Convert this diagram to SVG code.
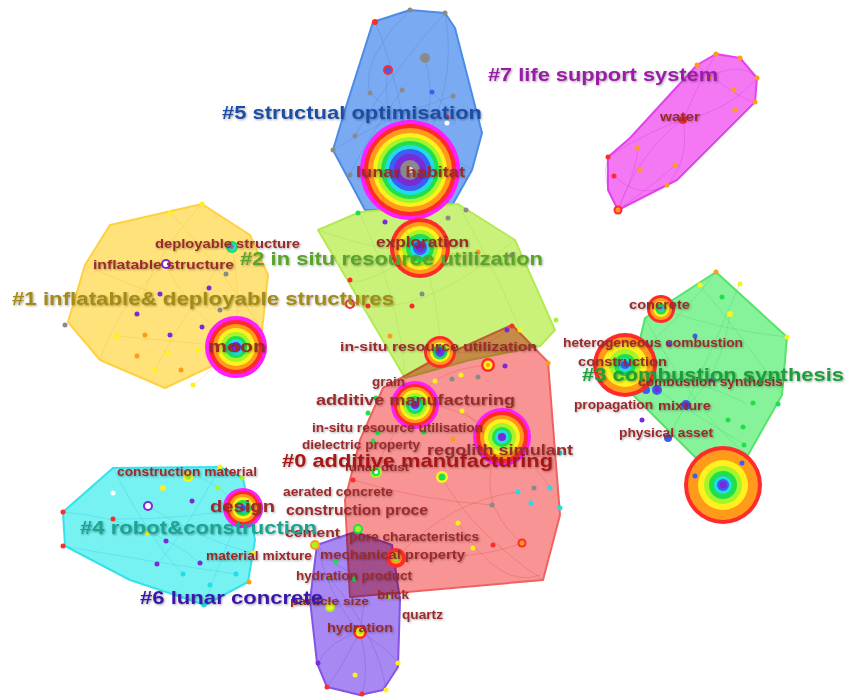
<svg xmlns="http://www.w3.org/2000/svg" width="845" height="697" viewBox="0 0 845 697">
  <style>
    .hull{stroke-width:2;stroke-linejoin:round}
    .mul{mix-blend-mode:multiply}
    .e{fill:none;stroke-width:0.8;opacity:0.38}
    .term{font-family:"Liberation Sans",Arial,sans-serif;font-weight:bold;fill:#9b2a2c;filter:url(#sh)}
    .clu{font-family:"Liberation Sans",Arial,sans-serif;font-weight:bold;filter:url(#sh)}
    .m{fill:#ff1eff}.r{fill:#ff2b2b}.o{fill:#ff9a1a}.y{fill:#fff01e}.lg{fill:#a6f52a}
    .g{fill:#1fe04a}.c{fill:#22dcea}.b{fill:#3c5ef2}.p{fill:#7a2ad6}.k{fill:#8a8a8a}.w{fill:#ffffff}
  </style>
  <defs>
    <filter id="sh" x="-5%" y="-30%" width="110%" height="160%">
      <feDropShadow dx="1" dy="1" stdDeviation="0.8" flood-color="#000" flood-opacity="0.35"/>
    </filter>
  </defs>
  <rect width="845" height="697" fill="#ffffff"/>

  <!-- cluster hulls -->
  <g id="hulls">
    <polygon id="hull5" class="hull" fill="#7aaaf2" stroke="#4c8ce6" points="373,22 410,10 445,13 455,28 482,133 472,170 450,209 365,210 333,150 345,110"/>
    <polygon id="hull7" class="hull" fill="#f478f4" stroke="#e244ea" points="608,157 630,138 697,65 716,54 740,58 757,78 755,102 677,180 618,210 608,190"/>
    <polygon id="hull1" class="hull" fill="#ffe27a" stroke="#ffd040" points="110,225 202,204 250,235 268,275 262,330 212,366 165,388 100,360 68,322 85,265"/>
    <polygon id="hull2" class="hull" fill="#caf27a" stroke="#b2ea52" points="318,230 360,212 458,204 515,240 555,330 540,346 470,360 405,378"/>
    <polygon id="hull0" class="hull mul" fill="#f89494" stroke="#f06262" points="512,325 548,362 560,515 543,580 350,597 345,500 360,440 383,388 430,362"/>
    <polygon id="hull3" class="hull" fill="#86f29a" stroke="#55e468" points="716,272 787,337 782,395 748,455 700,462 628,390 645,318"/>
    <polygon id="hull4" class="hull" fill="#76f2f2" stroke="#34e2ea" points="113,468 220,467 243,478 255,540 248,582 205,605 130,580 65,546 63,512"/>
    <polygon id="hull6" class="hull mul" fill="#a888f2" stroke="#8654e2" points="317,545 355,532 392,545 400,600 398,667 383,690 360,695 327,687 317,663 310,600"/>
  </g>

  <!-- connectors -->
  <g id="connectors">
    <g stroke="#4c7fd8">
      <path class="e" d="M410,170 Q380,110 388,70"/>
      <path class="e" d="M410,170 Q440,110 425,58"/>
      <path class="e" d="M375,22 Q400,80 410,170"/>
      <path class="e" d="M445,13 Q460,90 410,170"/>
      <path class="e" d="M333,150 Q380,120 453,96"/>
      <path class="e" d="M355,135 Q400,60 445,13"/>
      <path class="e" d="M370,93 Q420,140 472,170"/>
      <path class="e" d="M402,90 Q360,150 350,175"/>
      <path class="e" d="M410,10 Q360,60 370,93"/>
      <path class="e" d="M432,92 Q470,130 447,123"/>
    </g>
    <g stroke="#d030d8">
      <path class="e" d="M683,120 Q640,150 618,210"/>
      <path class="e" d="M683,120 Q700,80 716,54"/>
      <path class="e" d="M683,120 Q730,110 757,78"/>
      <path class="e" d="M683,120 Q650,130 608,157"/>
      <path class="e" d="M683,120 Q690,160 667,185"/>
      <path class="e" d="M618,210 Q640,160 637,148"/>
      <path class="e" d="M618,210 Q660,180 675,165"/>
      <path class="e" d="M618,210 Q600,180 608,157"/>
      <path class="e" d="M697,65 Q740,100 755,102"/>
      <path class="e" d="M708,78 Q740,60 757,78"/>
      <path class="e" d="M614,176 Q640,200 667,185"/>
    </g>
    <g stroke="#e8c030">
      <path class="e" d="M236,347 Q180,300 166,264"/>
      <path class="e" d="M236,347 Q240,280 232,247"/>
      <path class="e" d="M236,347 Q160,340 117,336"/>
      <path class="e" d="M236,347 Q200,380 193,385"/>
      <path class="e" d="M202,204 Q150,260 137,314"/>
      <path class="e" d="M166,264 Q120,300 100,360"/>
      <path class="e" d="M232,247 Q180,320 155,370"/>
      <path class="e" d="M85,265 Q160,300 220,310"/>
      <path class="e" d="M170,212 Q230,280 262,330"/>
    </g>
    <g stroke="#9cd840">
      <path class="e" d="M420,248 Q380,280 352,282"/>
      <path class="e" d="M420,248 Q470,260 512,255"/>
      <path class="e" d="M420,248 Q440,300 440,352"/>
      <path class="e" d="M360,213 Q400,300 405,378"/>
      <path class="e" d="M458,204 Q500,280 520,330"/>
      <path class="e" d="M318,230 Q400,260 478,252"/>
      <path class="e" d="M350,305 Q420,320 515,240"/>
    </g>
    <g stroke="#e04848">
      <path class="e" d="M502,437 Q470,500 522,543"/>
      <path class="e" d="M502,437 Q540,470 550,488"/>
      <path class="e" d="M502,437 Q450,400 415,405"/>
      <path class="e" d="M415,405 Q430,370 488,365"/>
      <path class="e" d="M415,405 Q380,450 376,472"/>
      <path class="e" d="M440,352 Q470,360 512,326"/>
      <path class="e" d="M442,477 Q470,530 543,580"/>
      <path class="e" d="M396,558 Q450,500 518,492"/>
      <path class="e" d="M396,558 Q480,560 522,543"/>
      <path class="e" d="M353,480 Q420,500 492,505"/>
      <path class="e" d="M463,410 Q520,470 560,453"/>
      <path class="e" d="M458,523 Q500,590 540,575"/>
    </g>
    <g stroke="#40d858">
      <path class="e" d="M625,365 Q680,320 716,272"/>
      <path class="e" d="M625,365 Q700,380 745,403"/>
      <path class="e" d="M661,309 Q720,330 787,337"/>
      <path class="e" d="M657,390 Q720,430 744,444"/>
      <path class="e" d="M700,285 Q760,360 782,395"/>
      <path class="e" d="M686,405 Q720,380 730,313"/>
      <path class="e" d="M645,318 Q700,420 748,455"/>
      <path class="e" d="M740,283 Q700,380 668,438"/>
    </g>
    <g stroke="#30c8d8">
      <path class="e" d="M243,508 Q180,520 113,519"/>
      <path class="e" d="M243,508 Q200,470 188,477"/>
      <path class="e" d="M243,508 Q220,560 204,605"/>
      <path class="e" d="M63,512 Q150,520 200,563"/>
      <path class="e" d="M63,546 Q140,560 236,574"/>
      <path class="e" d="M113,468 Q150,540 183,574"/>
      <path class="e" d="M220,467 Q180,540 157,564"/>
      <path class="e" d="M148,506 Q200,540 253,553"/>
    </g>
    <g stroke="#7a48d8">
      <path class="e" d="M360,632 Q330,600 317,545"/>
      <path class="e" d="M360,632 Q370,580 358,530"/>
      <path class="e" d="M360,632 Q340,670 327,687"/>
      <path class="e" d="M360,632 Q370,670 362,695"/>
      <path class="e" d="M360,632 Q390,650 398,663"/>
      <path class="e" d="M360,632 Q330,640 318,663"/>
      <path class="e" d="M340,606 Q380,590 396,558"/>
      <path class="e" d="M330,578 Q380,640 386,691"/>
      <path class="e" d="M317,545 Q360,600 392,545"/>
    </g>
  </g>

  <!-- small nodes -->
  <g id="dots">
    <!-- cluster 5 -->
    <circle cx="375" cy="22" r="3" class="r"/><circle cx="410" cy="10" r="2.5" class="k"/><circle cx="445" cy="13" r="2.5" class="k"/>
    <circle cx="425" cy="58" r="5" class="k"/><circle cx="370" cy="93" r="2.5" class="k"/><circle cx="402" cy="90" r="2.5" class="k"/>
    <circle cx="432" cy="92" r="2.5" class="b"/><circle cx="453" cy="96" r="2.5" class="k"/><circle cx="447" cy="117" r="2.5" class="r"/>
    <circle cx="447" cy="123" r="2.5" class="w"/><circle cx="355" cy="136" r="2.5" class="k"/><circle cx="333" cy="150" r="2.5" class="k"/>
    <circle cx="350" cy="175" r="2.5" class="k"/><circle cx="358" cy="213" r="2.5" class="g"/>
    <!-- cluster 7 -->
    <circle cx="697" cy="65" r="2.5" class="o"/><circle cx="716" cy="54" r="2.5" class="o"/><circle cx="740" cy="58" r="2.5" class="o"/>
    <circle cx="757" cy="78" r="2.5" class="o"/><circle cx="755" cy="102" r="2.5" class="o"/><circle cx="709" cy="78" r="2.5" class="o"/>
    <circle cx="734" cy="90" r="2.5" class="o"/><circle cx="735" cy="110" r="2.5" class="o"/><circle cx="637" cy="148" r="2.5" class="o"/>
    <circle cx="608" cy="157" r="2.5" class="r"/><circle cx="614" cy="176" r="2.5" class="r"/><circle cx="640" cy="170" r="2.5" class="o"/>
    <circle cx="675" cy="165" r="2.5" class="o"/><circle cx="667" cy="185" r="2.5" class="o"/>
    <circle cx="618" cy="210" r="4.5" class="r"/><circle cx="618" cy="210" r="2.5" class="o"/>
    <circle cx="683" cy="120" r="4" class="r"/>
    <!-- cluster 1 -->
    <circle cx="202" cy="204" r="2.5" class="y"/><circle cx="170" cy="213" r="2.5" class="y"/><circle cx="226" cy="274" r="2.5" class="k"/>
    <circle cx="209" cy="288" r="2.5" class="p"/><circle cx="160" cy="294" r="2.5" class="p"/><circle cx="220" cy="310" r="2.5" class="k"/>
    <circle cx="137" cy="314" r="2.5" class="p"/><circle cx="65" cy="325" r="2.5" class="k"/><circle cx="117" cy="336" r="3" class="y"/>
    <circle cx="145" cy="335" r="2.5" class="o"/><circle cx="170" cy="335" r="2.5" class="p"/><circle cx="202" cy="327" r="2.5" class="p"/>
    <circle cx="137" cy="356" r="2.5" class="o"/><circle cx="168" cy="353" r="2.5" class="y"/><circle cx="198" cy="350" r="2.5" class="y"/>
    <circle cx="155" cy="370" r="2.5" class="y"/><circle cx="181" cy="370" r="2.5" class="o"/><circle cx="193" cy="385" r="2.5" class="y"/>
    <circle cx="232" cy="247" r="6" class="g"/><circle cx="232" cy="247" r="4" class="c"/><circle cx="232" cy="247" r="2" class="k"/>
    <circle cx="166" cy="264" r="5" class="p"/><circle cx="166" cy="264" r="3" class="w"/>
    <!-- cluster 2 -->
    <circle cx="385" cy="222" r="2.5" class="p"/><circle cx="448" cy="218" r="2.5" class="k"/><circle cx="466" cy="210" r="2.5" class="k"/>
    <circle cx="350" cy="280" r="2.5" class="r"/><circle cx="368" cy="306" r="2.5" class="r"/><circle cx="412" cy="306" r="2.5" class="r"/>
    <circle cx="422" cy="294" r="2.5" class="k"/><circle cx="478" cy="252" r="2.5" class="o"/><circle cx="512" cy="255" r="2.5" class="k"/>
    <circle cx="390" cy="336" r="2.5" class="o"/><circle cx="520" cy="330" r="2.5" class="y"/><circle cx="556" cy="320" r="2.5" class="lg"/>
    <circle cx="350" cy="304" r="5" class="r"/><circle cx="350" cy="304" r="3" class="w"/>
    <!-- cluster 0 -->
    <circle cx="512" cy="326" r="2.5" class="r"/><circle cx="507" cy="330" r="2.5" class="p"/><circle cx="505" cy="366" r="2.5" class="p"/>
    <circle cx="435" cy="381" r="2.5" class="y"/><circle cx="452" cy="379" r="2.5" class="k"/><circle cx="461" cy="375" r="2.5" class="y"/>
    <circle cx="478" cy="377" r="2.5" class="k"/><circle cx="462" cy="411" r="2.5" class="y"/><circle cx="376" cy="398" r="2.5" class="g"/>
    <circle cx="368" cy="413" r="2.5" class="g"/><circle cx="378" cy="433" r="2.5" class="g"/><circle cx="424" cy="432" r="2.5" class="g"/>
    <circle cx="373" cy="441" r="2.5" class="g"/><circle cx="453" cy="439" r="2.5" class="o"/><circle cx="353" cy="480" r="2.5" class="r"/>
    <circle cx="560" cy="453" r="2.5" class="c"/><circle cx="550" cy="488" r="2.5" class="c"/><circle cx="518" cy="492" r="2.5" class="c"/>
    <circle cx="534" cy="488" r="2.5" class="k"/><circle cx="531" cy="503" r="2.5" class="c"/><circle cx="492" cy="505" r="2.5" class="k"/>
    <circle cx="493" cy="545" r="2.5" class="r"/><circle cx="458" cy="523" r="2.5" class="y"/><circle cx="473" cy="548" r="2.5" class="y"/>
    <circle cx="548" cy="363" r="2.5" class="o"/><circle cx="560" cy="508" r="2.5" class="c"/>
    <circle cx="376" cy="472" r="6" class="lg"/><circle cx="376" cy="472" r="4" class="g"/><circle cx="376" cy="472" r="2" class="w"/>
    <circle cx="442" cy="477" r="6" class="y"/><circle cx="442" cy="477" r="3.5" class="g"/>
    <circle cx="522" cy="543" r="4.5" class="r"/><circle cx="522" cy="543" r="2.5" class="o"/>
    <!-- cluster 3 -->
    <circle cx="716" cy="272" r="2.5" class="o"/><circle cx="700" cy="285" r="2.5" class="y"/><circle cx="740" cy="284" r="2.5" class="y"/>
    <circle cx="722" cy="297" r="2.5" class="g"/><circle cx="730" cy="314" r="3" class="y"/><circle cx="787" cy="337" r="2.5" class="y"/>
    <circle cx="695" cy="336" r="2.5" class="b"/><circle cx="670" cy="344" r="2.5" class="b"/><circle cx="646" cy="390" r="4" class="b"/>
    <circle cx="642" cy="420" r="2.5" class="p"/><circle cx="668" cy="438" r="4" class="b"/><circle cx="753" cy="403" r="2.5" class="g"/>
    <circle cx="778" cy="404" r="2.5" class="g"/><circle cx="728" cy="420" r="2.5" class="g"/><circle cx="743" cy="427" r="2.5" class="g"/>
    <circle cx="744" cy="445" r="2.5" class="g"/><circle cx="712" cy="380" r="2.5" class="b"/>
    <circle cx="686" cy="405" r="5" class="b"/><circle cx="686" cy="405" r="2.5" class="p"/>
    <!-- cluster 4 -->
    <circle cx="113" cy="493" r="2.5" class="w"/><circle cx="192" cy="501" r="2.5" class="p"/><circle cx="163" cy="488" r="3" class="y"/>
    <circle cx="218" cy="488" r="2.5" class="lg"/><circle cx="220" cy="467" r="2.5" class="y"/><circle cx="242" cy="478" r="2.5" class="lg"/>
    <circle cx="63" cy="512" r="2.5" class="r"/><circle cx="113" cy="519" r="2.5" class="r"/><circle cx="63" cy="546" r="2.5" class="r"/>
    <circle cx="147" cy="533" r="2.5" class="y"/><circle cx="166" cy="541" r="2.5" class="p"/><circle cx="157" cy="564" r="2.5" class="p"/>
    <circle cx="200" cy="563" r="2.5" class="p"/><circle cx="183" cy="574" r="2.5" class="c"/><circle cx="210" cy="585" r="2.5" class="c"/>
    <circle cx="236" cy="574" r="2.5" class="c"/><circle cx="249" cy="582" r="2.5" class="o"/><circle cx="204" cy="605" r="2.5" class="c"/>
    <circle cx="253" cy="553" r="2.5" class="y"/>
    <circle cx="188" cy="477" r="5" class="y"/><circle cx="188" cy="477" r="3" class="lg"/>
    <circle cx="148" cy="506" r="5" class="p"/><circle cx="148" cy="506" r="3" class="w"/>
    <!-- cluster 6 -->
    <circle cx="336" cy="562" r="2.5" class="g"/><circle cx="354" cy="579" r="2.5" class="g"/><circle cx="330" cy="578" r="2.5" class="g"/>
    <circle cx="318" cy="663" r="2.5" class="p"/><circle cx="355" cy="675" r="2.5" class="y"/><circle cx="327" cy="687" r="2.5" class="r"/>
    <circle cx="362" cy="694" r="2.5" class="r"/><circle cx="386" cy="690" r="2.5" class="y"/><circle cx="398" cy="663" r="2.5" class="y"/>
    <circle cx="388" cy="597" r="2.5" class="lg"/>
    <circle cx="315" cy="545" r="5" class="o"/><circle cx="315" cy="545" r="3" class="lg"/>
    <circle cx="358" cy="529" r="5" class="g"/><circle cx="358" cy="529" r="3" class="lg"/>
    <circle cx="330" cy="607" r="5" class="lg"/><circle cx="330" cy="607" r="3" class="y"/>
  </g>

  <!-- ringed nodes -->
  <g id="node-lunar-habitat" transform="translate(410,170)">
    <circle r="50" class="m"/><circle r="46" class="r"/><circle r="42" class="o"/><circle r="37" class="y"/><circle r="33" class="lg"/>
    <circle r="29" class="g"/><circle r="25" class="c"/><circle r="21" class="b"/><circle r="16" class="p"/><circle r="10" class="k"/><circle r="3" class="w"/>
  </g>
  <g id="node-exploration" transform="translate(420,248)">
    <circle r="30" class="r"/><circle r="26" class="o"/><circle r="22" class="y"/><circle r="18" class="lg"/><circle r="14" class="g"/>
    <circle r="10" class="c"/><circle r="7" class="b"/><circle r="4" class="p"/>
  </g>
  <g id="node-moon" transform="translate(236,347)">
    <circle r="31" class="m"/><circle r="27" class="r"/><circle r="23" class="o"/><circle r="19" class="y"/><circle r="15" class="lg"/>
    <circle r="11" class="g"/><circle r="8" class="c"/><circle r="5" class="p"/>
  </g>
  <g id="node-isru" transform="translate(440,352)">
    <circle r="16" class="r"/><circle r="13" class="o"/><circle r="10" class="y"/><circle r="7.5" class="g"/><circle r="5" class="b"/><circle r="3" class="p"/>
  </g>
  <g id="node-small-red" transform="translate(488,365)">
    <circle r="7" class="r"/><circle r="4.5" class="y"/><circle r="2" class="o"/>
  </g>
  <g id="node-additive-manufacturing" transform="translate(415,405)">
    <circle r="24" class="m"/><circle r="21" class="r"/><circle r="18" class="o"/><circle r="15" class="y"/><circle r="12" class="lg"/>
    <circle r="9" class="g"/><circle r="6" class="c"/><circle r="4" class="p"/>
  </g>
  <g id="node-regolith-simulant" transform="translate(502,437)">
    <circle r="29" class="m"/><circle r="26" class="r"/><circle r="22" class="o"/><circle r="18" class="y"/><circle r="14" class="lg"/>
    <circle r="10" class="g"/><circle r="7" class="c"/><circle r="4" class="p"/>
  </g>
  <g id="node-concrete" transform="translate(661,309)">
    <circle r="14" class="r"/><circle r="11" class="o"/><circle r="8" class="y"/><circle r="5.5" class="g"/><circle r="3" class="c"/>
  </g>
  <g id="node-construction" transform="translate(625,365)">
    <circle r="32" class="r"/><circle r="28" class="o"/><circle r="22" class="y"/><circle r="16" class="lg"/><circle r="11" class="g"/>
    <circle r="7" class="c"/><circle r="4" class="b"/>
  </g>
  <g id="node-combustion" transform="translate(657,390)">
    <circle r="5" class="b"/><circle r="2.5" class="p"/>
  </g>
  <g id="node-large" transform="translate(723,485)">
    <circle r="39" class="r"/><circle r="35" class="o"/><circle r="25" class="y"/><circle r="19" class="lg"/><circle r="14" class="g"/>
    <circle r="9" class="c"/><circle r="6" class="b"/><circle r="3.5" class="p"/>
    <circle cx="-28" cy="-9" r="2.5" class="b"/><circle cx="19" cy="-22" r="2.5" class="b"/>
  </g>
  <g id="node-design" transform="translate(243,508)">
    <circle r="20" class="m"/><circle r="17" class="r"/><circle r="14" class="o"/><circle r="11" class="y"/><circle r="8" class="g"/>
    <circle r="5" class="c"/><circle r="3" class="b"/>
  </g>
  <g id="node-mechanical-property" transform="translate(396,558)">
    <circle r="10" class="r"/><circle r="6" class="o"/><circle r="3.5" class="lg"/>
  </g>
  <g id="node-hydration" transform="translate(360,632)">
    <circle r="7" class="r"/><circle r="4.5" class="y"/><circle r="2" class="lg"/>
  </g>
  <g id="node-ring-blue" transform="translate(388,70)">
    <circle r="5" class="r"/><circle r="3" class="b"/>
  </g>

  <!-- keyword labels -->
  <g id="terms">
    <text class="term" x="356" y="177" font-size="15" textLength="109" lengthAdjust="spacingAndGlyphs">lunar habitat</text>
    <text class="term" x="660" y="121" font-size="12" textLength="40" lengthAdjust="spacingAndGlyphs">water</text>
    <text class="term" x="155" y="248" font-size="12" textLength="145" lengthAdjust="spacingAndGlyphs">deployable structure</text>
    <text class="term" x="93" y="269" font-size="12" textLength="141" lengthAdjust="spacingAndGlyphs">inflatable structure</text>
    <text class="term" x="376" y="247" font-size="14" textLength="93" lengthAdjust="spacingAndGlyphs">exploration</text>
    <text class="term" x="629" y="309" font-size="12" textLength="61" lengthAdjust="spacingAndGlyphs">concrete</text>
    <text class="term" x="208" y="352" font-size="17" textLength="58" lengthAdjust="spacingAndGlyphs">moon</text>
    <text class="term" x="340" y="351" font-size="13" textLength="197" lengthAdjust="spacingAndGlyphs">in-situ resource utilization</text>
    <text class="term" x="563" y="347" font-size="12" textLength="180" lengthAdjust="spacingAndGlyphs">heterogeneous combustion</text>
    <text class="term" x="578" y="366" font-size="12" textLength="89" lengthAdjust="spacingAndGlyphs">construction</text>
    <text class="term" x="638" y="386" font-size="12" textLength="145" lengthAdjust="spacingAndGlyphs">combustion synthesis</text>
    <text class="term" x="372" y="386" font-size="12" textLength="33" lengthAdjust="spacingAndGlyphs">grain</text>
    <text class="term" x="316" y="405" font-size="15" textLength="199" lengthAdjust="spacingAndGlyphs">additive manufacturing</text>
    <text class="term" x="574" y="409" font-size="12" textLength="79" lengthAdjust="spacingAndGlyphs">propagation</text>
    <text class="term" x="658" y="410" font-size="13" textLength="53" lengthAdjust="spacingAndGlyphs">mixture</text>
    <text class="term" x="312" y="432" font-size="12" textLength="171" lengthAdjust="spacingAndGlyphs">in-situ resource utilisation</text>
    <text class="term" x="619" y="437" font-size="12" textLength="94" lengthAdjust="spacingAndGlyphs">physical asset</text>
    <text class="term" x="302" y="449" font-size="12" textLength="118" lengthAdjust="spacingAndGlyphs">dielectric property</text>
    <text class="term" x="427" y="455" font-size="15" textLength="146" lengthAdjust="spacingAndGlyphs">regolith simulant</text>
    <text class="term" x="345" y="471" font-size="11" textLength="64" lengthAdjust="spacingAndGlyphs">lunar dust</text>
    <text class="term" x="117" y="476" font-size="12" textLength="140" lengthAdjust="spacingAndGlyphs">construction material</text>
    <text class="term" x="283" y="496" font-size="12" textLength="110" lengthAdjust="spacingAndGlyphs">aerated concrete</text>
    <text class="term" x="210" y="512" font-size="16" textLength="65" lengthAdjust="spacingAndGlyphs">design</text>
    <text class="term" x="286" y="515" font-size="14" textLength="142" lengthAdjust="spacingAndGlyphs">construction proce</text>
    <text class="term" x="285" y="537" font-size="13" textLength="55" lengthAdjust="spacingAndGlyphs">cement</text>
    <text class="term" x="349" y="541" font-size="12" textLength="130" lengthAdjust="spacingAndGlyphs">pore characteristics</text>
    <text class="term" x="320" y="559" font-size="13" textLength="145" lengthAdjust="spacingAndGlyphs">mechanical property</text>
    <text class="term" x="206" y="560" font-size="12" textLength="106" lengthAdjust="spacingAndGlyphs">material mixture</text>
    <text class="term" x="296" y="580" font-size="12" textLength="116" lengthAdjust="spacingAndGlyphs">hydration product</text>
    <text class="term" x="377" y="599" font-size="12" textLength="32" lengthAdjust="spacingAndGlyphs">brick</text>
    <text class="term" x="290" y="605" font-size="11" textLength="79" lengthAdjust="spacingAndGlyphs">particle size</text>
    <text class="term" x="402" y="619" font-size="12" textLength="41" lengthAdjust="spacingAndGlyphs">quartz</text>
    <text class="term" x="327" y="632" font-size="13" textLength="66" lengthAdjust="spacingAndGlyphs">hydration</text>
  </g>

  <!-- cluster labels -->
  <g id="cluster-labels">
    <text class="clu" x="222" y="119" font-size="19" fill="#1f4ea6" textLength="260" lengthAdjust="spacingAndGlyphs">#5 structual optimisation</text>
    <text class="clu" x="488" y="81" font-size="19" fill="#9a1ea6" textLength="230" lengthAdjust="spacingAndGlyphs">#7 life support system</text>
    <text class="clu" x="240" y="265" font-size="19" fill="#5aa42a" textLength="303" lengthAdjust="spacingAndGlyphs">#2 in situ resource utilization</text>
    <text class="clu" x="12" y="305" font-size="19" fill="#a48a14" textLength="382" lengthAdjust="spacingAndGlyphs">#1 inflatable&amp; deployable  structures</text>
    <text class="clu" x="582" y="381" font-size="19" fill="#1c9e3a" textLength="262" lengthAdjust="spacingAndGlyphs">#3 combustion synthesis</text>
    <text class="clu" x="282" y="467" font-size="19" fill="#a81414" textLength="271" lengthAdjust="spacingAndGlyphs">#0 additive manufacturing</text>
    <text class="clu" x="80" y="534" font-size="19" fill="#1aa392" textLength="237" lengthAdjust="spacingAndGlyphs">#4 robot&amp;construction</text>
    <text class="clu" x="140" y="604" font-size="19" fill="#3a18aa" textLength="183" lengthAdjust="spacingAndGlyphs">#6 lunar concrete</text>
  </g>
</svg>
